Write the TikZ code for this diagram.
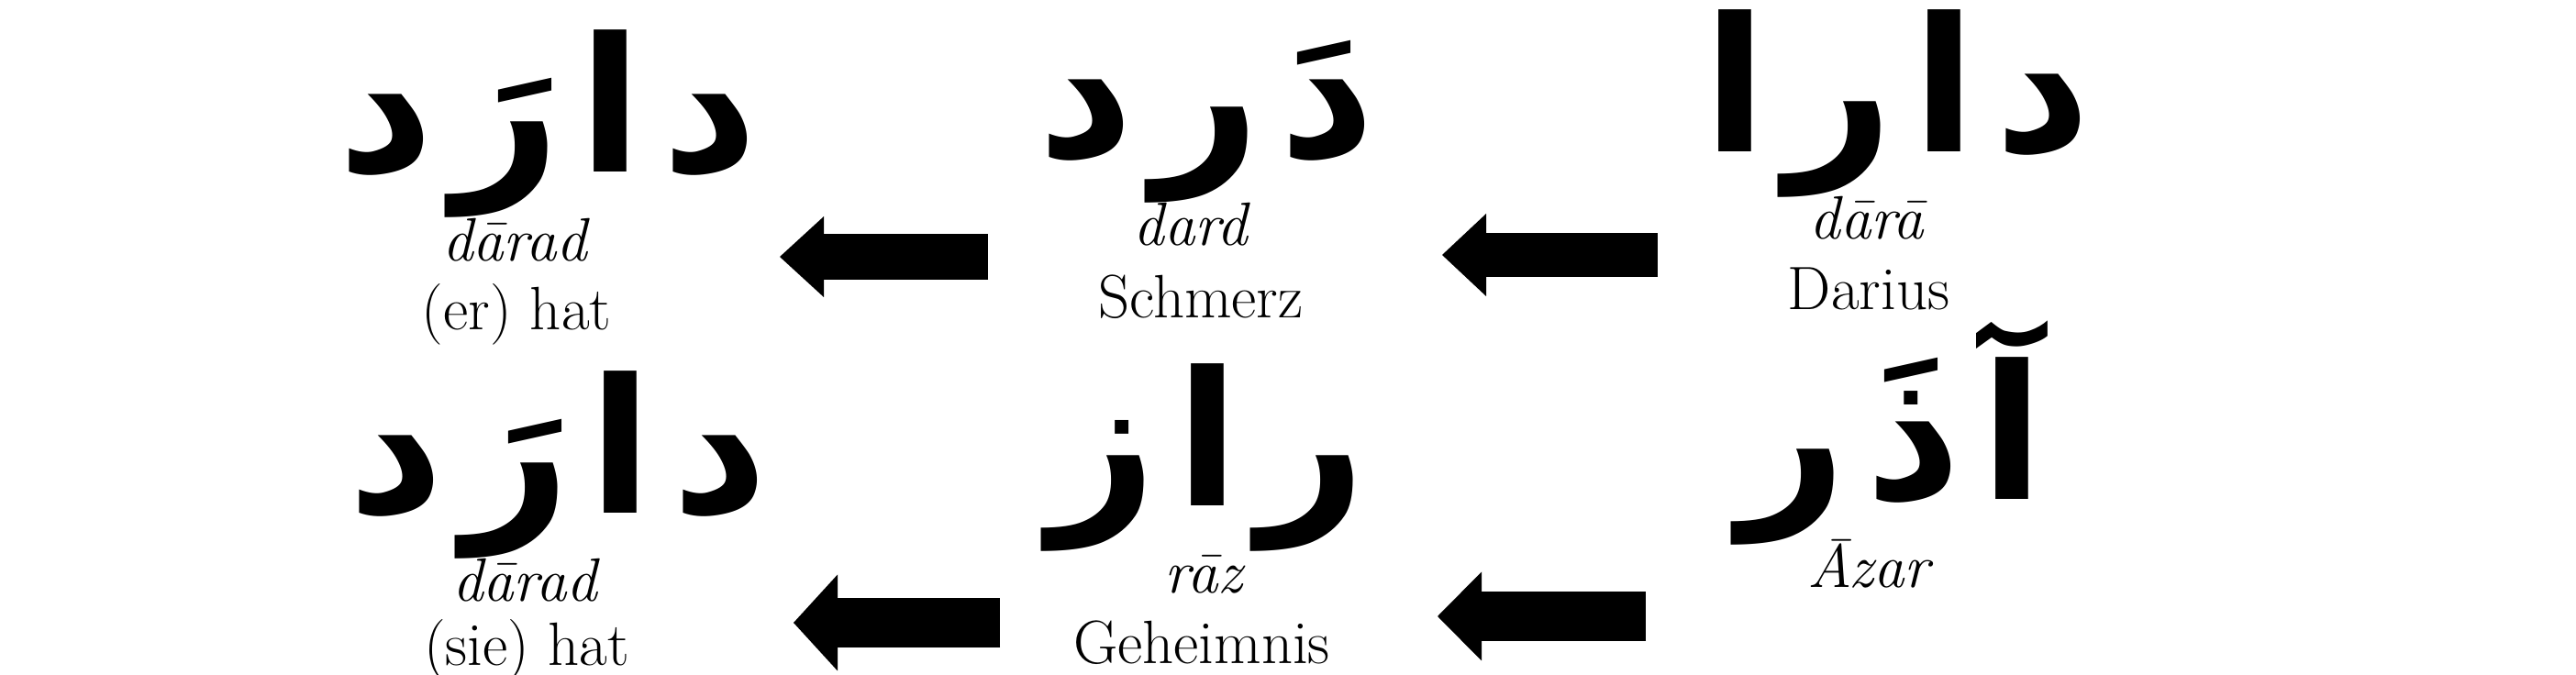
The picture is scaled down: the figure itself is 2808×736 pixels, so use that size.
\documentclass[tikz,border=0pt]{standalone}
\usepackage{fontspec}
\usetikzlibrary{arrows.meta}
\TeXXeTstate=1
\newfontfamily\arabicfont[Script=Arabic]{DejaVu Sans}
\newcommand{\lsp}{\kern0.1em}
\begin{document}
\begin{tikzpicture}[x=0.1mm,y=-0.1mm,
  arword/.style={inner sep=0pt, anchor=base, font=\arabicfont\bfseries\fontsize{58}{68}\selectfont},
  gloss/.style={inner sep=0pt, anchor=base, font=\fontsize{19}{22}\selectfont},
  translit/.style={inner sep=0pt, anchor=base, font=\itshape\fontsize{19}{22}\selectfont},
  blockarrow/.style 2 args={line width=#1, -{Triangle[length=4.8mm,width=#2,line width=0pt]}}
]
\useasboundingbox (0,0) rectangle (2808,736);

% Arabic words
\node[arword] (w1) at (597,188) {\beginR د\lsp ا\lsp رَ\lsp د\endR};
\node[arword] (w2) at (1315,172) {\beginR دَ\lsp ر\lsp د\endR};
\node[arword] (w3) at (2068,166) {\beginR د\lsp ا\lsp ر\lsp ا\endR};
\node[arword] (w4) at (608,560) {\beginR د\lsp ا\lsp رَ\lsp د\endR};
\node[arword] (w5) at (1316,552) {\beginR ر\lsp ا\lsp ز\endR};
\node[arword] (w6) at (2062,545) {\beginR آ\lsp ذَ\lsp ر\endR};

% transliterations and glosses
\node[translit] (t1) at (561,285) {dārad};
\node[gloss]    (g1) at (563,360) {(er) hat};
\node[translit] (t2) at (1298,268) {dard};
\node[gloss]    (g2) at (1309,347) {Schmerz};
\node[translit] (t3) at (2035,261) {dārā};
\node[gloss]    (g3) at (2037,338) {Darius};
\node[translit] (t4) at (572,655) {dārad};
\node[gloss]    (g4) at (574,726) {(sie) hat};
\node[translit] (t5) at (1312,647) {rāz};
\node[gloss]    (g5) at (1310,723) {Geheimnis};
\node[translit] (t6) at (2037,640) {Āzar};

% arrows
\coordinate (a1s) at (1077,280); \coordinate (a1e) at (850,280);
\coordinate (a2s) at (1807,278); \coordinate (a2e) at (1572,278);
\coordinate (a3s) at (1090,679); \coordinate (a3e) at (865,679);
\coordinate (a4s) at (1794,672); \coordinate (a4e) at (1567,672);
\draw[blockarrow={5mm}{8.8mm}] (a1s) -- (a1e);
\draw[blockarrow={4.8mm}{9mm}] (a2s) -- (a2e);
\draw[blockarrow={5.4mm}{10.5mm}] (a3s) -- (a3e);
\draw[blockarrow={5.4mm}{9.7mm}] (a4s) -- (a4e);
\end{tikzpicture}
\end{document}
